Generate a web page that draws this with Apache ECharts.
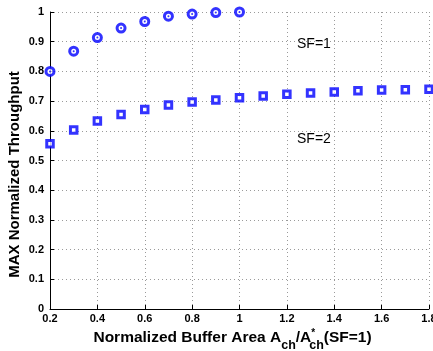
<!DOCTYPE html>
<html>
<head>
<meta charset="utf-8">
<script src="https://cdn.jsdelivr.net/npm/echarts@6/dist/echarts.min.js"></script>
<style>
  html, body { margin: 0; padding: 0; background: #fff; }
  #chart { width: 433px; height: 351px; }
</style>
</head>
<body>
<div id="chart"></div>
<script>
// Normalized buffer area (x) and throughput for the two spreading factors
const areaSF1 = [0.2, 0.3, 0.4, 0.5, 0.6, 0.7, 0.8, 0.9, 1.0];
const throughputSF1 = [0.800, 0.868, 0.914, 0.946, 0.968, 0.986, 0.993, 0.998, 1.000];

const areaSF2 = [0.2, 0.3, 0.4, 0.5, 0.6, 0.7, 0.8, 0.9, 1.0, 1.1, 1.2, 1.3, 1.4, 1.5, 1.6, 1.7, 1.8];
const throughputSF2 = [0.556, 0.603, 0.633, 0.655, 0.672, 0.687, 0.697, 0.704, 0.711, 0.717, 0.723, 0.727, 0.731, 0.735, 0.737, 0.738, 0.740];

const xTicks = [0.2, 0.4, 0.6, 0.8, 1, 1.2, 1.4, 1.6, 1.8];
const yTicks = [0, 0.1, 0.2, 0.3, 0.4, 0.5, 0.6, 0.7, 0.8, 0.9, 1];

const BLUE = '#0000ff';
const FONT = '"Liberation Sans", Arial, Helvetica, sans-serif';

const pairs = (xs, ys) => xs.map((x, i) => [x, ys[i]]);

const chart = echarts.init(document.getElementById('chart'), null, { renderer: 'canvas' });

const gridLine = { show: true, lineStyle: { color: '#9a9a9a', type: [1, 3], width: 1 } };

chart.setOption({
  animation: false,
  backgroundColor: '#ffffff',
  grid: { left: 50, right: 4, top: 12, bottom: 42, containLabel: false, outerBoundsMode: 'none' },
  xAxis: {
    type: 'value',
    min: xTicks[0],
    max: xTicks[xTicks.length - 1],
    interval: 0.2,
    axisLine: { show: true, onZero: false, lineStyle: { color: '#000', width: 1 } },
    axisTick: { show: true, inside: true, length: 4, lineStyle: { color: '#000' } },
    axisLabel: {
      color: '#000', fontFamily: FONT, fontWeight: 'bold', fontSize: 11, margin: 4,
      formatter: v => String(Math.round(v * 10) / 10)
    },
    splitLine: gridLine,
    name: '{t|Normalized Buffer Area A}{sub|ch}{t|/A}{sup|*}{sub|ch}{t|(SF=1)}',
    nameLocation: 'middle',
    nameGap: 21,
    nameMoveOverlap: false,
    nameTextStyle: {
      padding: [0, 14, 0, 0],
      rich: {
        t: { fontFamily: FONT, fontWeight: 'bold', fontSize: 15.5, color: '#000', verticalAlign: 'top', lineHeight: 18 },
        sub: { fontFamily: FONT, fontWeight: 'bold', fontSize: 12.5, color: '#000', verticalAlign: 'top', padding: [9, 0, 0, 0], lineHeight: 18 },
        sup: { fontFamily: FONT, fontWeight: 'bold', fontSize: 10, color: '#000', verticalAlign: 'top', padding: [-2, -6, 0, 0], lineHeight: 18 }
      }
    }
  },
  yAxis: {
    type: 'value',
    min: yTicks[0],
    max: yTicks[yTicks.length - 1],
    interval: 0.1,
    axisLine: { show: true, lineStyle: { color: '#000', width: 1 } },
    axisTick: { show: true, inside: true, length: 4, lineStyle: { color: '#000' } },
    axisLabel: {
      color: '#000', fontFamily: FONT, fontWeight: 'bold', fontSize: 11, margin: 6,
      formatter: v => String(Math.round(v * 10) / 10)
    },
    splitLine: gridLine,
    name: 'MAX Normalized Throughput',
    nameLocation: 'middle',
    nameGap: 28,
    nameMoveOverlap: false,
    nameTextStyle: {
      fontFamily: FONT, fontWeight: 'bold', fontSize: 15, color: '#000',
      padding: [0, 28, 0, 0]
    }
  },
  graphic: [
    { type: 'text', left: 297, top: 37, style: { text: 'SF=1', font: '14px ' + FONT, fill: '#000' } },
    { type: 'text', left: 297, top: 132, style: { text: 'SF=2', font: '14px ' + FONT, fill: '#000' } }
  ],
  series: [
    {
      name: 'SF=1',
      type: 'scatter',
      data: pairs(areaSF1, throughputSF1),
      symbol: 'circle',
      symbolSize: 8,
      clip: false,
      itemStyle: { color: '#ffffff', borderColor: BLUE, borderWidth: 3 },
      z: 3
    },
    {
      name: 'SF=1 centre',
      type: 'scatter',
      data: pairs(areaSF1, throughputSF1),
      symbol: 'circle',
      symbolSize: 2,
      clip: false,
      itemStyle: { color: BLUE },
      z: 4
    },
    {
      name: 'SF=2',
      type: 'scatter',
      data: pairs(areaSF2, throughputSF2),
      symbol: 'rect',
      symbolSize: 6.5,
      clip: false,
      itemStyle: { color: '#ffffff', borderColor: BLUE, borderWidth: 3 },
      z: 3
    }
  ]
});
</script>
</body>
</html>
